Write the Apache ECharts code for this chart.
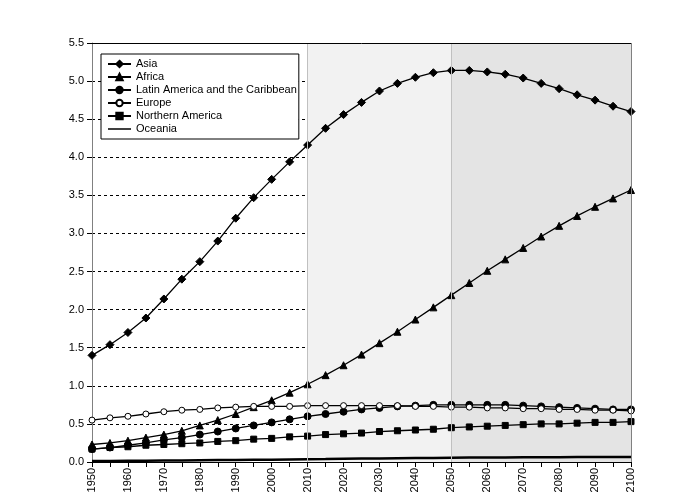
<!DOCTYPE html>
<html><head><meta charset="utf-8">
<script src="https://cdn.jsdelivr.net/npm/echarts@6/dist/echarts.min.js"></script>
<style>html,body{margin:0;padding:0;background:#fff}#c{width:683px;height:504px}</style>
</head><body><div id="c"></div>
<script>
var years = [1950,1955,1960,1965,1970,1975,1980,1985,1990,1995,2000,2005,2010,2015,2020,2025,2030,2035,2040,2045,2050,2055,2060,2065,2070,2075,2080,2085,2090,2095,2100];
var asia = [1.40,1.54,1.70,1.89,2.14,2.40,2.63,2.90,3.20,3.47,3.71,3.94,4.16,4.38,4.56,4.72,4.87,4.97,5.05,5.11,5.14,5.14,5.12,5.09,5.04,4.97,4.90,4.82,4.75,4.67,4.60];
var africa = [0.23,0.25,0.28,0.32,0.36,0.41,0.48,0.55,0.63,0.72,0.81,0.91,1.02,1.14,1.27,1.41,1.56,1.71,1.87,2.03,2.19,2.35,2.51,2.66,2.81,2.96,3.10,3.23,3.35,3.46,3.57];
var latam = [0.17,0.19,0.22,0.25,0.29,0.32,0.36,0.40,0.44,0.48,0.52,0.56,0.60,0.63,0.66,0.69,0.71,0.73,0.74,0.75,0.75,0.75,0.75,0.75,0.74,0.73,0.72,0.71,0.70,0.69,0.69];
var europe = [0.55,0.58,0.60,0.63,0.66,0.68,0.69,0.71,0.72,0.73,0.73,0.73,0.74,0.74,0.74,0.74,0.74,0.74,0.73,0.73,0.72,0.72,0.71,0.71,0.70,0.70,0.69,0.69,0.68,0.68,0.67];
var namerica = [0.17,0.19,0.20,0.22,0.23,0.24,0.25,0.27,0.28,0.30,0.31,0.33,0.34,0.36,0.37,0.38,0.40,0.41,0.42,0.43,0.45,0.46,0.47,0.48,0.49,0.50,0.50,0.51,0.52,0.52,0.53];
var oceania = [0.013,0.014,0.016,0.018,0.020,0.021,0.023,0.025,0.027,0.029,0.031,0.034,0.037,0.039,0.042,0.045,0.047,0.050,0.052,0.054,0.056,0.058,0.059,0.060,0.061,0.062,0.063,0.064,0.064,0.065,0.065];
var names = ['Asia','Africa','Latin America and the Caribbean','Europe','Northern America','Oceania'];
var yTicks = [0,0.5,1,1.5,2,2.5,3,3.5,4,4.5,5,5.5];

function pairs(arr){return years.map(function(y,i){return [y,arr[i]];});}
var font = 'Liberation Sans, Arial, sans-serif';
function mk(name, arr, symbol, fill, size){
  return {name:name,type:'line',data:pairs(arr),symbol:symbol,symbolSize:size,
    showSymbol: symbol!=='none',
    lineStyle:{color:'#000',width:symbol==='none'?2.5:1.3},
    itemStyle:{color:fill,borderColor:'#000',borderWidth:1},
    emphasis:{disabled:true},z:3};
}
var series = [
  mk(names[0],asia,'diamond','#000',8),
  mk(names[1],africa,'triangle','#000',7),
  mk(names[2],latam,'circle','#000',7),
  mk(names[3],europe,'circle','#fff',6),
  mk(names[4],namerica,'rect','#000',6),
  mk(names[5],oceania,'none','#000',0)
];
series[0].markArea = {silent:true,data:[
  [{xAxis:2010,itemStyle:{color:'#f2f2f2'}},{xAxis:2050}],
  [{xAxis:2050,itemStyle:{color:'#e4e4e4'}},{xAxis:2100}]
]};
series[0].markLine = {silent:true,symbol:'none',label:{show:false},
  lineStyle:{color:'#c0c0c0',type:'solid',width:1},
  data:[{xAxis:2010},{xAxis:2050},
    {yAxis:5.5,lineStyle:{color:'#000',type:'solid',width:1}},
    {xAxis:2100,lineStyle:{color:'#808080',type:'solid',width:1}}]};

var legendData = names.map(function(n){
  return n==='Oceania' ? {name:n,
    icon:'path://M0,0L0.01,0L0.01,0.01ZM0,3.3L23,3.3L23,4.7L0,4.7ZM0,7.99L0.01,7.99L0.01,8Z',
    itemStyle:{color:'#000',borderWidth:0}} : {name:n};
});

var chart = echarts.init(document.getElementById('c'));
chart.setOption({
  animation:false,
  backgroundColor:'#fff',
  grid:{left:92,right:52,top:43,bottom:42},
  legend:{
    orient:'vertical',left:101,top:54,
    data:legendData,
    backgroundColor:'#fff',borderColor:'#000',borderWidth:1,
    padding:[4,2,4,6],itemGap:1,itemWidth:23,itemHeight:8,
    textStyle:{fontFamily:font,fontSize:11,color:'#000',lineHeight:12},
    selectedMode:false
  },
  xAxis:{
    type:'value',min:1950,max:2100,interval:5,
    axisLine:{show:true,onZero:false,lineStyle:{color:'#000'}},
    axisTick:{show:true,length:5,lineStyle:{color:'#000'}},
    axisLabel:{rotate:90,fontFamily:font,fontSize:11,color:'#000',margin:6,
      formatter:function(v){return v%10===0?String(v):'';}},
    splitLine:{show:false}
  },
  yAxis:{
    type:'value',min:0,max:5.5,interval:0.5,
    axisLine:{show:true,lineStyle:{color:'#808080'}},
    axisTick:{show:true,length:5,lineStyle:{color:'#000'}},
    axisLabel:{fontFamily:font,fontSize:11,color:'#000',margin:8,
      formatter:function(v){return v.toFixed(1);}},
    splitLine:{show:true,lineStyle:{color:'#000',type:[3,3],width:1}}
  },
  series:series
});
</script></body></html>
